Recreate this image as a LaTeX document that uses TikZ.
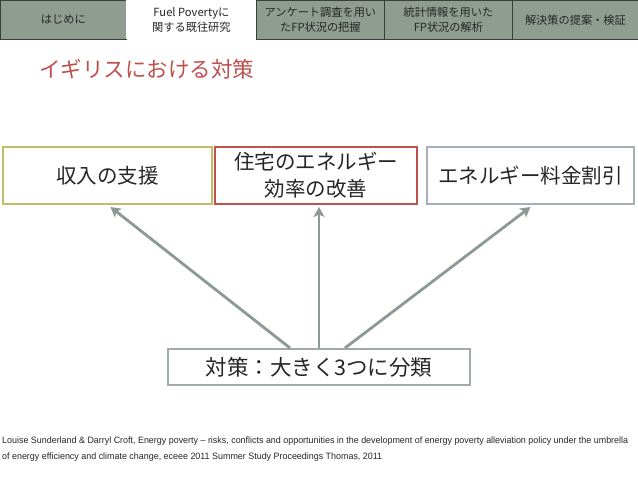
\documentclass[tikz,border=0pt]{standalone}
\usepackage{fontspec}
\setmainfont{Noto Sans CJK JP}
\newfontfamily\footfont[FakeStretch=0.97]{Liberation Sans}
\usetikzlibrary{arrows.meta,calc}
\definecolor{tabfill}{HTML}{8F9D91}
\definecolor{tabline}{HTML}{3A3F3B}
\definecolor{titlered}{HTML}{C0504D}
\definecolor{boxolive}{HTML}{C4BC66}
\definecolor{boxred}{HTML}{C0504D}
\definecolor{boxblue}{HTML}{A5AEB9}
\definecolor{boxgrey}{HTML}{A2ACA6}
\definecolor{arrowgrey}{HTML}{8C9A92}
\definecolor{txt}{HTML}{262626}
\tikzset{
  tab/.style={draw=tabline, line width=0.8pt, fill=tabfill, minimum height=39pt,
    inner sep=0pt, anchor=north west, align=center, text=txt,
    font=\fontsize{11.2}{15.5}\selectfont},
  mainbox/.style={line width=2pt, inner sep=0pt, align=center, text=txt,
    minimum height=57pt, font=\fontsize{20.5}{27}\selectfont},
  conn/.style={draw=arrowgrey, line width=2.8pt,
    -{Stealth[length=10pt,width=11pt,inset=2.5pt]}},
  foot/.style={anchor=west, inner sep=0pt, text=txt, font=\footfont\fontsize{9.2}{10}\selectfont},
}
\begin{document}
\begin{tikzpicture}[x=1pt,y=-1pt]
\fill[white] (0,0) rectangle (638,479);
\useasboundingbox (0,0) rectangle (638,479);
% tabs
\node[tab, minimum width=126pt] (t1) at (0,0) {はじめに};
\node[tab, fill=white, draw=none, minimum width=130pt] (t2) at (126,0) {Fuel Povertyに\\関する既往研究};
\node[tab, minimum width=128pt] (t3) at (256,0) {アンケート調査を用い\\たFP状況の把握};
\node[tab, minimum width=128pt] (t4) at (384,0) {統計情報を用いた\\FP状況の解析};
\node[tab, minimum width=126pt] (t5) at (512,0) {解決策の提案・検証};
% title
\node[anchor=west, inner sep=0pt, text=titlered, font=\fontsize{21.5}{26}\selectfont] (title) at (39,69) {イギリスにおける対策};
% boxes
\node[mainbox, draw=boxolive, minimum width=209pt] (b1) at (107.5,175.5) {収入の支援};
\node[mainbox, draw=boxred, minimum width=202pt] (b2) at (316,175.5) {住宅のエネルギー\\効率の改善};
\node[mainbox, draw=boxblue, minimum width=207pt] (b3) at (530.5,175.5) {エネルギー料金割引};
\node[mainbox, draw=boxgrey, minimum width=302pt, minimum height=36pt, font=\fontsize{21.5}{27}\selectfont] (bot) at (319,367) {対策：大きく3つに分類};
% connectors
\coordinate (s1) at ([xshift=-29pt]bot.north);
\coordinate (s2) at (bot.north);
\coordinate (s3) at ([xshift=26pt]bot.north);
\coordinate (e1) at ([xshift=3pt,yshift=-2pt]b1.south);
\coordinate (e2) at ([xshift=3pt,yshift=-2pt]b2.south);
\coordinate (e3) at ([xshift=0pt,yshift=-2pt]b3.south);
\draw[conn] (s1) -- (e1);
\draw[conn] (s2) -- (e2);
\draw[conn] (s3) -- (e3);
% footer
\node[foot] (f1) at (2,441) {Louise Sunderland \& Darryl Croft, Energy poverty – risks, conflicts and opportunities in the development of energy poverty alleviation policy under the umbrella};
\node[foot] (f2) at (2,457) {of energy efficiency and climate change, eceee 2011 Summer Study Proceedings Thomas, 2011};
\end{tikzpicture}
\end{document}
